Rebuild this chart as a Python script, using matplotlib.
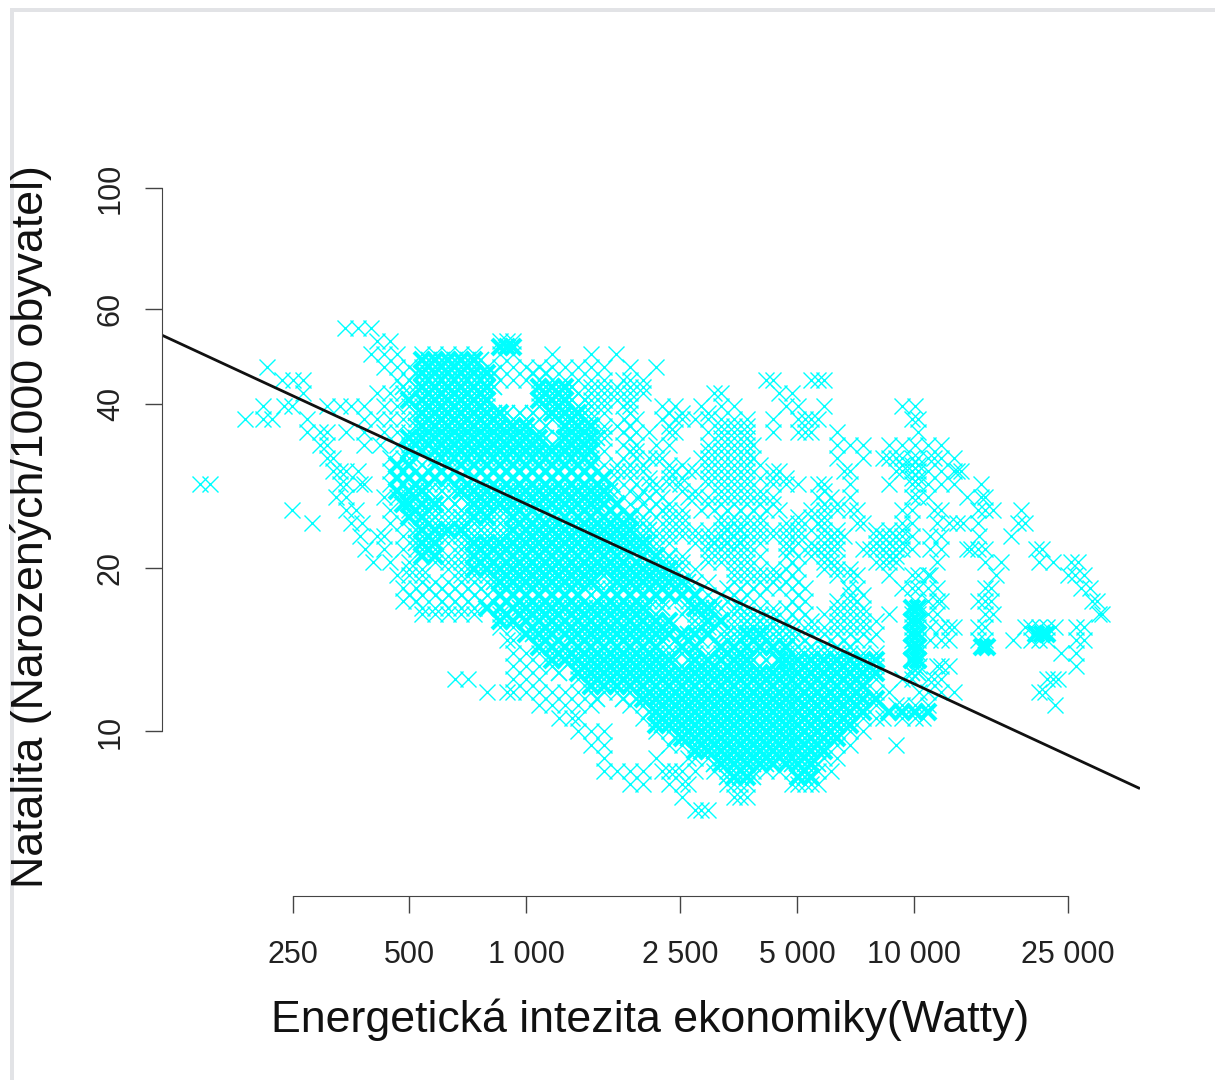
# plot.py - natalita vs energeticka intezita, R style scatter on log axes
import matplotlib
matplotlib.use("Agg")
import matplotlib.pyplot as plt
from matplotlib.patches import Rectangle

plt.rcParams['font.family'] = ['Liberation Sans', 'DejaVu Sans']

W, H = 1215, 1080

x_ticks = [250, 500, 1000, 2500, 5000, 10000, 25000]
x_tick_labels = ["250", "500", "1 000", "2 500", "5 000", "10 000", "25 000"]
y_ticks = [10, 20, 40, 60, 100]
y_tick_labels = ["10", "20", "40", "60", "100"]

line_watts = [115, 38300]
line_natality = [53.6, 7.85]

# birth rate levels with the energy values read along each of them
natality_rows = [55.3, 52.3, 49.5, 46.9, 44.35, 41.97, 39.72, 37.58, 35.57, 33.66, 31.85, 30.15,
                 28.53, 27.0, 25.55, 24.18, 22.88, 21.65, 20.49, 19.39, 18.35, 17.36, 16.43,
                 15.55, 14.72, 13.93, 13.18, 12.47, 11.8, 11.17, 10.57, 10.0, 9.46, 8.95, 8.47,
                 8.02, 7.59, 7.18]
watts_rows = [
    [340, 368, 397],
    [412, 446, 857, 891, 926],
    [397, 429, 463, 540, 583, 630, 680, 735, 857, 926, 1166, 1470, 1700],
    [214, 429, 463, 500, 540, 583, 630, 680, 735, 794, 857, 926, 1000, 1080, 1166, 1260, 1361, 1470, 1587, 1852, 2160],
    [234, 250, 265, 463, 500, 540, 583, 630, 680, 735, 794, 857, 926, 1000, 1080, 1166, 1260, 1361, 1470, 1587, 1782, 1852, 2000, 4157, 4320, 5443, 5656, 5878],
    [265, 412, 446, 481, 520, 583, 630, 680, 735, 794, 1080, 1166, 1260, 1361, 1470, 1587, 1714, 1852, 2000, 3055, 3175, 4490, 4849],
    [209, 238, 249, 306, 330, 353, 382, 429, 463, 500, 540, 583, 630, 680, 735, 794, 1080, 1166, 1260, 1361, 1470, 1587, 1782, 1852, 2244, 2425, 2828, 3175, 3429, 4666, 5039, 5878, 9332, 10079],
    [188, 209, 221, 272, 382, 412, 446, 481, 520, 583, 630, 680, 735, 794, 857, 926, 1000, 1166, 1260, 1361, 1470, 1790, 1924, 2244, 2425, 2520, 2721, 2939, 3175, 3429, 3703, 4320, 5039, 5237, 5443, 5656, 9900, 10260],
    [272, 294, 306, 344, 382, 429, 463, 500, 540, 583, 630, 680, 735, 794, 857, 926, 1000, 1080, 1260, 1361, 1470, 1587, 1782, 1924, 2078, 2333, 2425, 2939, 3175, 3429, 3703, 4320, 5039, 5237, 5443, 6349, 10260],
    [294, 306, 382, 420, 463, 500, 540, 583, 630, 680, 735, 794, 857, 926, 1000, 1080, 1166, 1260, 1361, 1470, 1782, 1924, 2160, 2333, 2939, 3175, 3429, 3703, 3849, 6349, 6857, 7406, 8640, 9332, 10079, 10886, 11757],
    [306, 318, 446, 481, 500, 583, 630, 680, 735, 794, 857, 926, 1000, 1080, 1166, 1260, 1361, 1470, 1782, 1924, 2078, 2160, 2244, 2828, 2939, 3175, 3429, 3703, 3849, 6349, 7406, 8313, 8640, 9000, 9332, 9900, 10260, 10886, 11300, 11757, 12699],
    [318, 330, 344, 368, 446, 481, 520, 561, 606, 655, 707, 764, 825, 891, 962, 1039, 1122, 1212, 1309, 1414, 1527, 1714, 1852, 2000, 2333, 2425, 2619, 2721, 2939, 3175, 3429, 3703, 4320, 4490, 6598, 6857, 8978, 9332, 9900, 10260, 10886, 11757, 12699, 12900, 13200],
    [144, 153, 330, 344, 372, 382, 446, 481, 520, 561, 606, 655, 707, 764, 825, 891, 962, 1039, 1122, 1212, 1309, 1414, 1527, 1660, 1924, 2078, 2160, 2333, 2500, 2939, 3175, 3429, 3703, 4320, 4666, 5039, 5656, 5878, 6857, 8640, 9900, 10260, 10886, 11757, 12699, 14900],
    [324, 344, 429, 463, 500, 583, 630, 680, 735, 794, 857, 926, 1000, 1080, 1166, 1260, 1361, 1470, 1587, 1950, 2078, 2244, 2619, 2721, 2939, 3175, 3429, 3703, 4000, 4320, 5656, 6109, 6857, 9900, 10260, 10886, 13715, 14900, 15300],
    [249, 344, 365, 446, 500, 540, 583, 630, 680, 735, 794, 857, 926, 1039, 1122, 1212, 1309, 1414, 1527, 1649, 1924, 2078, 2244, 2333, 2520, 2828, 3055, 3300, 3564, 3849, 4157, 4490, 5443, 5878, 6349, 6857, 7126, 9332, 9900, 11300, 11757, 14600, 15300, 16000, 18900],
    [280, 353, 378, 446, 481, 540, 583, 630, 680, 735, 794, 857, 926, 1000, 1080, 1166, 1260, 1361, 1470, 1587, 1714, 1852, 2000, 2333, 2520, 3175, 3429, 3703, 4000, 4666, 5039, 5656, 5878, 7126, 7406, 9332, 9900, 11500, 12300, 12900, 13400, 14600, 18550, 19300],
    [372, 412, 429, 481, 520, 583, 630, 680, 735, 794, 857, 1000, 1080, 1166, 1260, 1361, 1470, 1587, 1714, 1852, 2000, 2160, 2333, 2520, 2721, 2939, 3175, 3429, 3703, 4000, 4320, 4666, 5039, 5878, 6109, 6349, 6598, 8000, 8313, 8640, 8978, 9332, 9900, 11000, 11757, 14700, 17800],
    [385, 429, 481, 520, 540, 583, 680, 735, 794, 857, 926, 1000, 1080, 1166, 1260, 1361, 1470, 1587, 1714, 1852, 2000, 2160, 2939, 3175, 3429, 3703, 4666, 4849, 5443, 5656, 5878, 6109, 6349, 7406, 7697, 8000, 8313, 8640, 9000, 9332, 9900, 11000, 11757, 13700, 14000, 14600, 15300, 20700, 21400],
    [402, 446, 500, 583, 630, 680, 735, 794, 926, 1000, 1080, 1166, 1260, 1361, 1470, 1587, 1714, 1924, 2078, 2160, 2333, 2520, 2939, 3175, 3429, 3703, 4849, 5878, 6109, 6349, 8000, 8313, 8640, 9000, 11500, 15300, 16800, 21000, 22800, 25400, 26500],
    [463, 500, 540, 680, 735, 794, 926, 1000, 1080, 1166, 1260, 1361, 1470, 1587, 1714, 1852, 2000, 2160, 2333, 3429, 3703, 4000, 4320, 4490, 4849, 6349, 6857, 7126, 8640, 9900, 10260, 10886, 11000, 16300, 25000, 26000, 27400],
    [481, 520, 561, 606, 655, 707, 764, 825, 891, 962, 1039, 1122, 1212, 1309, 1414, 1527, 1649, 1782, 1924, 2078, 2244, 2425, 3300, 3564, 3849, 4157, 4490, 4849, 5237, 6757, 7126, 9332, 9900, 10260, 10886, 11500, 15300, 15800, 27000, 28400],
    [481, 520, 606, 655, 707, 764, 891, 962, 1039, 1122, 1212, 1309, 1414, 1527, 1782, 1924, 2078, 2244, 2425, 2619, 2828, 3055, 3300, 3564, 4849, 5237, 6349, 6857, 7126, 10079, 10886, 11500, 11757, 14600, 15300, 15800, 28800, 29600],
    [540, 583, 630, 680, 735, 857, 1000, 1080, 1166, 1361, 1470, 1587, 1714, 1852, 2000, 2160, 2520, 2721, 2939, 3429, 3703, 4000, 4320, 4849, 5237, 5878, 6349, 6857, 7406, 8640, 9900, 10260, 10886, 11500, 15300, 16000, 30000, 30600],
    [857, 926, 1166, 1260, 1361, 1470, 1587, 1714, 1852, 2000, 2160, 2333, 2721, 2939, 3429, 3703, 4000, 4320, 4666, 5443, 5878, 6349, 6857, 7406, 9900, 10260, 11000, 11757, 12300, 12699, 14600, 15300, 19300, 20000, 21000, 22000, 23100, 26200, 27400],
    [891, 926, 1122, 1212, 1309, 1414, 1527, 1649, 1782, 1924, 2078, 2244, 2425, 2619, 2828, 3055, 3300, 3564, 3849, 4157, 4490, 4849, 5237, 5656, 6109, 6598, 7126, 7697, 9900, 10260, 11000, 11757, 12300, 14600, 15300, 18000, 20100, 21000, 22000, 26200, 27400],
    [926, 1000, 1080, 1166, 1260, 1361, 1470, 1587, 1714, 1852, 2000, 2160, 2333, 2520, 2721, 2939, 3175, 3429, 3703, 4000, 4320, 4666, 5039, 5443, 5878, 6349, 6857, 7406, 8000, 10079, 10260, 24000, 26200],
    [926, 1000, 1080, 1166, 1361, 1470, 1587, 1714, 1852, 2000, 2160, 2520, 2721, 2939, 3429, 3703, 4000, 4666, 5039, 5443, 5878, 6349, 6857, 7406, 8000, 10079, 10300, 11500, 11757, 12300, 26200],
    [655, 707, 926, 1000, 1080, 1361, 1470, 1587, 1714, 1852, 2000, 2160, 2333, 2520, 2721, 2939, 3175, 3429, 3703, 4000, 4320, 4666, 5039, 5443, 5878, 6349, 6857, 7406, 8000, 9332, 9900, 10886, 11300, 11757, 22000, 22800, 23500],
    [794, 891, 926, 1000, 1080, 1166, 1260, 1361, 1470, 1587, 1714, 1852, 2000, 2160, 2333, 2520, 2721, 2939, 3175, 3429, 3703, 4000, 4320, 4666, 5039, 5443, 5878, 6349, 6857, 7406, 8000, 8640, 10300, 10886, 11757, 12699, 21000, 21800],
    [1080, 1166, 1260, 1361, 1470, 1852, 2000, 2160, 2333, 2520, 2721, 2939, 3175, 3429, 3703, 4000, 4320, 4666, 5039, 5443, 5878, 6349, 6857, 7406, 8000, 8978, 9332, 10079, 10886, 23100],
    [1212, 1309, 1361, 2000, 2160, 2333, 2520, 2721, 2939, 3175, 3429, 3703, 4000, 4320, 4666, 5039, 5443, 5878, 6349, 6857, 7406, 8000, 8313, 9332, 10079, 10560],
    [1361, 1470, 1587, 2160, 2333, 2520, 2721, 2939, 3175, 3429, 3703, 4000, 4320, 4666, 5039, 5443, 5878, 6349, 6857, 7406],
    [1470, 1587, 2333, 2520, 2721, 2939, 3175, 3429, 3703, 4000, 4320, 4666, 5039, 5443, 5878, 6349, 6857, 8978],
    [1587, 2160, 2619, 2721, 2939, 3175, 3429, 3703, 4000, 4320, 4666, 5039, 5443, 5878, 6349],
    [1587, 1714, 1852, 2000, 2244, 2333, 2425, 2520, 2721, 3055, 3300, 3564, 3849, 4157, 4490, 4849, 5237, 5656, 6109],
    [1852, 2000, 2333, 2520, 2619, 3300, 3429, 3564, 3703, 4849, 5039, 5237, 5443, 5656],
    [2520, 3429, 3564, 3703],
    [2721, 2828, 2939],
]

# thicker parts of the cloud have a second pass of crosses between the rows above
dense_natality = [48.2, 45.6, 43.1, 40.8, 38.6, 36.55, 34.6, 32.75, 30.98, 29.3, 27.75, 26.25, 24.85,
                  23.5, 22.25, 21.05, 19.93, 18.85, 17.85, 16.88, 15.97, 15.1, 14.3, 13.55, 12.8,
                  12.12, 11.47, 10.85, 10.28, 9.72, 9.2, 8.7, 8.24]
dense_watts = [
    [561, 606, 655, 707, 764],
    [520, 561, 606, 655, 707, 764, 825, 1039, 1122],
    [481, 520, 561, 606, 655, 707, 764, 825, 1122, 1212, 1309],
    [500, 540, 561, 606, 655, 707, 764, 794, 1122, 1212, 1309, 1414],
    [520, 561, 606, 655, 707, 764, 825, 891, 962, 1039, 1122, 1212, 1309, 1414],
    [520, 561, 606, 655, 707, 764, 825, 891, 962, 1039, 1122, 1309, 1414],
    [520, 561, 606, 655, 707, 764, 825, 891, 962, 1039, 1122, 1212, 1309, 1414, 1527],
    [540, 606, 655, 707, 764, 825, 891, 962, 1039, 1122, 1212, 1309, 1414],
    [500, 540, 583, 630, 680, 735, 794, 857, 926, 1000, 1080, 1166, 1260, 1361, 1470],
    [500, 540, 583, 630, 680, 735, 794, 857, 926, 1000, 1080, 1166, 1260, 1361, 1470, 1587],
    [520, 561, 606, 655, 707, 764, 825, 891, 962, 1039, 1122, 1212, 1309, 1414, 1527, 1649],
    [500, 561, 606, 655, 707, 764, 825, 891, 962, 1039, 1122, 1212, 1309, 1414, 1527],
    [540, 583, 680, 735, 794, 857, 1000, 1080, 1166, 1260, 1361, 1470, 1587, 1714, 1852],
    [520, 606, 707, 764, 825, 891, 1039, 1122, 1212, 1309, 1414, 1527, 1649, 1782, 1924, 2078, 3300, 3564],
    [520, 561, 707, 764, 825, 891, 962, 1039, 1122, 1212, 1309, 1414, 1527, 1649, 1782, 1924, 2078, 3055, 3300, 3564],
    [794, 857, 926, 1000, 1080, 1166, 1260, 1361, 1470, 1587, 1714, 1852, 2000, 2160, 2333],
    [825, 891, 962, 1039, 1122, 1212, 1309, 1414, 1527, 1649, 1782, 1924, 2078, 2244, 2425],
    [825, 891, 962, 1039, 1122, 1212, 1309, 1414, 1527, 1649, 1782, 1924, 2078, 2244, 2425, 2619],
    [857, 926, 1000, 1080, 1166, 1260, 1361, 1470, 1587, 1714, 1852, 2000, 2160, 2333, 2520, 2721],
    [962, 1039, 1122, 1212, 1309, 1414, 1527, 1649, 1782, 1924, 2078, 2244, 2619, 2828, 3055, 3564],
    [1000, 1080, 1166, 1260, 1361, 1470, 1587, 1714, 1852, 2000, 2160, 2333, 2721, 3175, 3703, 4000, 4320],
    [1039, 1122, 1309, 1414, 1527, 1649, 1782, 1924, 2078, 2244, 2619, 3300, 3564, 3849, 4157, 4490, 4849],
    [1080, 1166, 1361, 1470, 1587, 1714, 1852, 2000, 2160, 2333, 2520, 3429, 3703, 4000, 4320, 4666, 5039, 5443, 5878, 6349, 6857],
    [1309, 1414, 1527, 1649, 1782, 1924, 2078, 2244, 2425, 2619, 3564, 3849, 4157, 4490, 4849, 5237, 5656, 6109, 6598, 7126, 7697, 9900, 10260],
    [1212, 1414, 1527, 1649, 1782, 1924, 2078, 2244, 2425, 2619, 2828, 3055, 3300, 3564, 3849, 4157, 4490, 4849, 5237, 5656, 6109, 6598, 7126, 7697, 9900, 10260],
    [1470, 1587, 1714, 1852, 2000, 2160, 2333, 2520, 2721, 2939, 3175, 3429, 3703, 4000, 4320, 4666, 5039, 5443, 5878, 6349, 6857, 7406],
    [1527, 1782, 1924, 2078, 2244, 2425, 2619, 2828, 3055, 3300, 3564, 3849, 4157, 4490, 4849, 5237, 5656, 6109, 6598, 7126],
    [2078, 2244, 2425, 2619, 2828, 3055, 3300, 3564, 3849, 4157, 4490, 4849, 5237, 5656, 6109, 6598],
    [2244, 2425, 2619, 2828, 3055, 3300, 3564, 3849, 4157, 4490, 4849, 5237, 5656, 6109, 6598],
    [2425, 2619, 2828, 3055, 3300, 3564, 3849, 4157, 4490, 4849, 5237, 5656, 6109],
    [2828, 3055, 3300, 3564, 3849, 4157, 4490, 4849, 5237, 5656],
    [3055, 3300, 3564, 3849, 4157, 4849, 5237, 5656],
    [3300, 3564, 3849, 5039, 5237, 5443],
]

# the solid core, where crosses overlap so much that no white is left
solid_natality = [50.9, 48.2, 45.6, 43.1, 40.8, 38.6, 36.55, 34.6, 32.75, 30.98, 29.3, 27.75, 26.25, 24.85,
                  23.5, 22.25, 21.05, 19.93, 18.85, 17.85, 16.88, 15.97, 15.1, 14.3, 13.55, 12.8,
                  12.12, 11.47, 10.85, 10.28, 9.72, 9.2, 8.7, 8.24]
solid_watts = [
    [857, 891, 926],
    [540, 583, 630, 680, 735],
    [540, 583, 630, 680, 735, 794],
    [540, 583, 630, 680, 735, 794, 1080, 1166, 1260],
    [500, 540, 583, 630, 680, 735, 794, 1080, 1166, 1260],
    [540, 583, 630, 680, 735, 794, 857, 1166, 1260, 1361],
    [540, 583, 630, 680, 735, 794, 857, 926, 1000, 1260, 1361, 1470],
    [500, 540, 583, 630, 680, 735, 794, 857, 926, 1000, 1080, 1260, 1361, 1470],
    [500, 540, 583, 630, 680, 735, 794, 857, 926, 1000, 1080, 1166, 1260, 1361, 1470],
    [463, 500, 583, 630, 680, 735, 794, 857, 926, 1000, 1080, 1166, 1260, 1361, 1470],
    [463, 500, 540, 583, 630, 680, 735, 794, 857, 926, 1000, 1080, 1166, 1260, 1361, 1470, 1587],
    [463, 500, 540, 680, 735, 794, 857, 926, 1000, 1080, 1166, 1260, 1361, 1470, 1587],
    [481, 500, 540, 583, 735, 794, 857, 926, 1000, 1080, 1166, 1260, 1361, 1470, 1587, 1714],
    [500, 540, 735, 794, 926, 1000, 1080, 1166, 1260, 1361, 1470, 1587, 1714, 1852],
    [540, 583, 630, 680, 926, 1000, 1080, 1166, 1260, 1361, 1470, 1587, 1714, 1852],
    [540, 583, 735, 794, 857, 926, 1000, 1080, 1166, 1260, 1361, 1470, 1587, 1714, 1852, 2000],
    [540, 583, 735, 794, 857, 926, 1000, 1080, 1166, 1260, 1361, 1470, 1587, 1714, 1852, 2000, 2160],
    [735, 794, 857, 926, 1000, 1080, 1166, 1260, 1361, 1470, 1587, 1714, 1852, 2000, 2160, 2333],
    [857, 926, 1000, 1080, 1166, 1260, 1361, 1470, 1714, 1852, 2000, 2160, 2333, 2520],
    [857, 926, 1000, 1080, 1166, 1260, 1361, 1587, 1714, 1852, 2000, 2160, 2333, 2520, 2721],
    [794, 857, 926, 1000, 1080, 1166, 1260, 1361, 1470, 1587, 1714, 1852, 2000, 2721, 2939, 9900, 10260],
    [857, 926, 1000, 1080, 1166, 1260, 1361, 1470, 1587, 1714, 1852, 2000, 2160, 2333, 2939, 3175, 9900, 10260],
    [1000, 1080, 1166, 1260, 1361, 1470, 1587, 1714, 1852, 2000, 2160, 2333, 2520, 2721, 2939, 3703, 4000, 9900, 10260, 20700, 21400, 22000],
    [1080, 1166, 1260, 1361, 1470, 1587, 1714, 1852, 2000, 2160, 2520, 2721, 3175, 3429, 3703, 4000, 4320, 4666, 9900, 10260, 15000, 15400],
    [1166, 1260, 1361, 1470, 1587, 1714, 1852, 2000, 2160, 2333, 2721, 2939, 3175, 3429, 3703, 4490, 4666, 5039, 5443, 5878, 6349, 6857, 7406, 8000, 9900, 10260],
    [1361, 1470, 1587, 1714, 1852, 2000, 2160, 2333, 2520, 2721, 2939, 3175, 3429, 3703, 4000, 4320, 4666, 5039, 5443, 5878, 6349, 6857, 7406, 8000],
    [1470, 1587, 1714, 1852, 2000, 2160, 2333, 2520, 2721, 2939, 3175, 3429, 3703, 4000, 4320, 4666, 5039, 5443, 5878, 6349, 6857, 7406],
    [2000, 2160, 2333, 2520, 2721, 2939, 3175, 3429, 3703, 4000, 4320, 4666, 5039, 5443, 5878, 6349, 6857, 7406, 8000],
    [2160, 2333, 2520, 2721, 2939, 3175, 3429, 3703, 4000, 4320, 4666, 5039, 5443, 5878, 6349, 6857, 7406, 8640, 9332, 10079, 10886],
    [2160, 2333, 2520, 2721, 2939, 3175, 3429, 3703, 4000, 4320, 4666, 5039, 5443, 5878, 6349, 6857],
    [2520, 2721, 2939, 3175, 3429, 3703, 4000, 4320, 4666, 5039, 5443, 5878, 6349],
    [2721, 2939, 3175, 3429, 3703, 4000, 4320, 4666, 5039, 5443, 5878],
    [3175, 3429, 3703, 4000, 4320, 4666, 5039, 5443],
    [3429, 3703, 5039, 5443],
]

# looser lattice around the core, above the line and on the lower left
loose_natality = [43.1, 40.8, 38.6, 36.55, 34.6, 32.75, 30.98, 29.3, 27.75, 26.25, 24.85, 23.5, 22.25,
                  21.05, 19.93, 18.85, 17.85, 16.88, 15.97, 15.1]
loose_watts = [
    [1470, 1587, 1714, 1852, 2000],
    [1470, 1587, 1714, 1852],
    [1470, 1587, 1852, 2333, 2520, 2939],
    [1587, 1714, 1852, 2333, 3175, 3429, 3703],
    [1587, 1852, 3175, 3429, 3703],
    [1587, 1852, 1924, 2939, 3175, 3429, 3703],
    [1587, 1714, 1852, 2000, 2333, 2520, 2939, 3175, 3429, 3703, 4000, 9332, 9900, 10260],
    [1714, 1852, 2078, 2333, 2520, 2939, 3175, 3429, 3703, 4000, 4320, 4666, 9900, 10260],
    [1714, 1852, 2000, 2160, 2520, 2721, 3175, 3429, 3703, 4000, 5878],
    [1852, 2000, 2160, 2333, 2939, 3175, 3429, 3703, 4000, 4320, 5878, 6349],
    [583, 630, 680, 2000, 2160, 2333, 2520, 3175, 3429, 3703, 4000, 5039, 5443, 5878],
    [735, 794, 857, 2000, 2160, 2333, 2520, 2721, 2939, 3175, 3429, 3703, 4000, 4320, 4666, 5039, 5443, 5878, 6349, 8000, 8640, 9332],
    [630, 680, 2160, 2333, 2720, 2939, 3175, 3429, 3703, 4000, 4666, 5039, 5443, 5878, 6349, 8000, 8640, 9332],
    [630, 680, 2333, 2520, 2939, 3175, 3429, 3703, 4000, 4666, 5039, 5443, 5878, 8640, 9000],
    [500, 540, 630, 680, 2520, 2721, 3429, 3703, 4000, 4320, 4666, 5039, 5878, 6349, 6857],
    [540, 583, 630, 680, 735, 794, 2721, 2939, 3429, 3703, 4000, 4320, 4666, 5039],
    [500, 540, 583, 630, 680, 735, 794, 2939, 3175, 3429, 3703, 4000, 5039, 6857, 7406],
    [540, 583, 630, 680, 735, 3175, 3429, 3703, 4000, 4320, 4666, 5039, 6349, 6857, 7406],
    [3429, 3703, 4000, 4320, 4666, 5039, 5443, 6349, 6857, 7406, 8000],
    [3175, 3429, 4320, 4666, 5039, 5443, 5878, 6349, 6857, 7406, 8000],
]

fig = plt.figure(figsize=(W / 100, H / 100), dpi=100, facecolor="white")

# grey frame of the page on the left and on top
fig.add_artist(Rectangle((10 / W, 0), 4 / W, 1 - 8 / H, transform=fig.transFigure, color="#E2E3E6", lw=0))
fig.add_artist(Rectangle((10 / W, 1 - 12 / H), 1 - 10 / W, 4 / H, transform=fig.transFigure, color="#E2E3E6", lw=0))

ax = fig.add_axes([162 / W, 1 - 896 / H, (1140 - 162) / W, (896 - 188) / H])
ax.set_xscale("log")
ax.set_yscale("log")
ax.set_xlim(115, 38300)
ax.set_ylim(4.98, 100)

for level, watts in zip(natality_rows, watts_rows):
    ax.plot(watts, [level] * len(watts), ls="none", marker="x", ms=11.5, mew=1.0, color="#00FFFF")
for level, watts in zip(loose_natality, loose_watts):
    ax.plot(watts, [level] * len(watts), ls="none", marker="x", ms=11.5, mew=1.0, color="#00FFFF")
for level, watts in zip(dense_natality, dense_watts):
    ax.plot(watts, [level] * len(watts), ls="none", marker="x", ms=11.5, mew=1.3, color="#00FFFF")
for level, watts in zip(solid_natality, solid_watts):
    ax.plot(watts, [level] * len(watts), ls="none", marker="x", ms=11.5, mew=3.0, color="#00FFFF")

ax.plot(line_watts, line_natality, color="#111111", lw=2.0, solid_capstyle="butt")

# R style axes: only the spine between first and last tick
ax.spines["top"].set_visible(False)
ax.spines["right"].set_visible(False)
ax.spines["left"].set_bounds(10, 100)
ax.spines["bottom"].set_bounds(250, 25000)
ax.spines["left"].set_color("#444444")
ax.spines["bottom"].set_color("#444444")

ax.set_xticks(x_ticks)
ax.set_xticklabels(x_tick_labels)
ax.set_yticks(y_ticks)
ax.set_yticklabels(y_tick_labels, rotation=90, va="center")
ax.minorticks_off()
ax.tick_params(axis="both", length=12, width=1, color="#444444", labelcolor="#222222", labelsize=22)
ax.tick_params(axis="x", pad=20)
ax.tick_params(axis="y", pad=14)

fig.text(650 / W, 1 - 1020 / H, "Energetická intezita ekonomiky(Watty)", fontsize=32.2, color="#111111",
         ha="center", va="center")
fig.text(31 / W, 1 - 527 / H, "Natalita (Narozených/1000 obyvatel)", fontsize=32.2, color="#111111",
         rotation=90, ha="center", va="center")

fig.savefig("out.png", dpi=100)
